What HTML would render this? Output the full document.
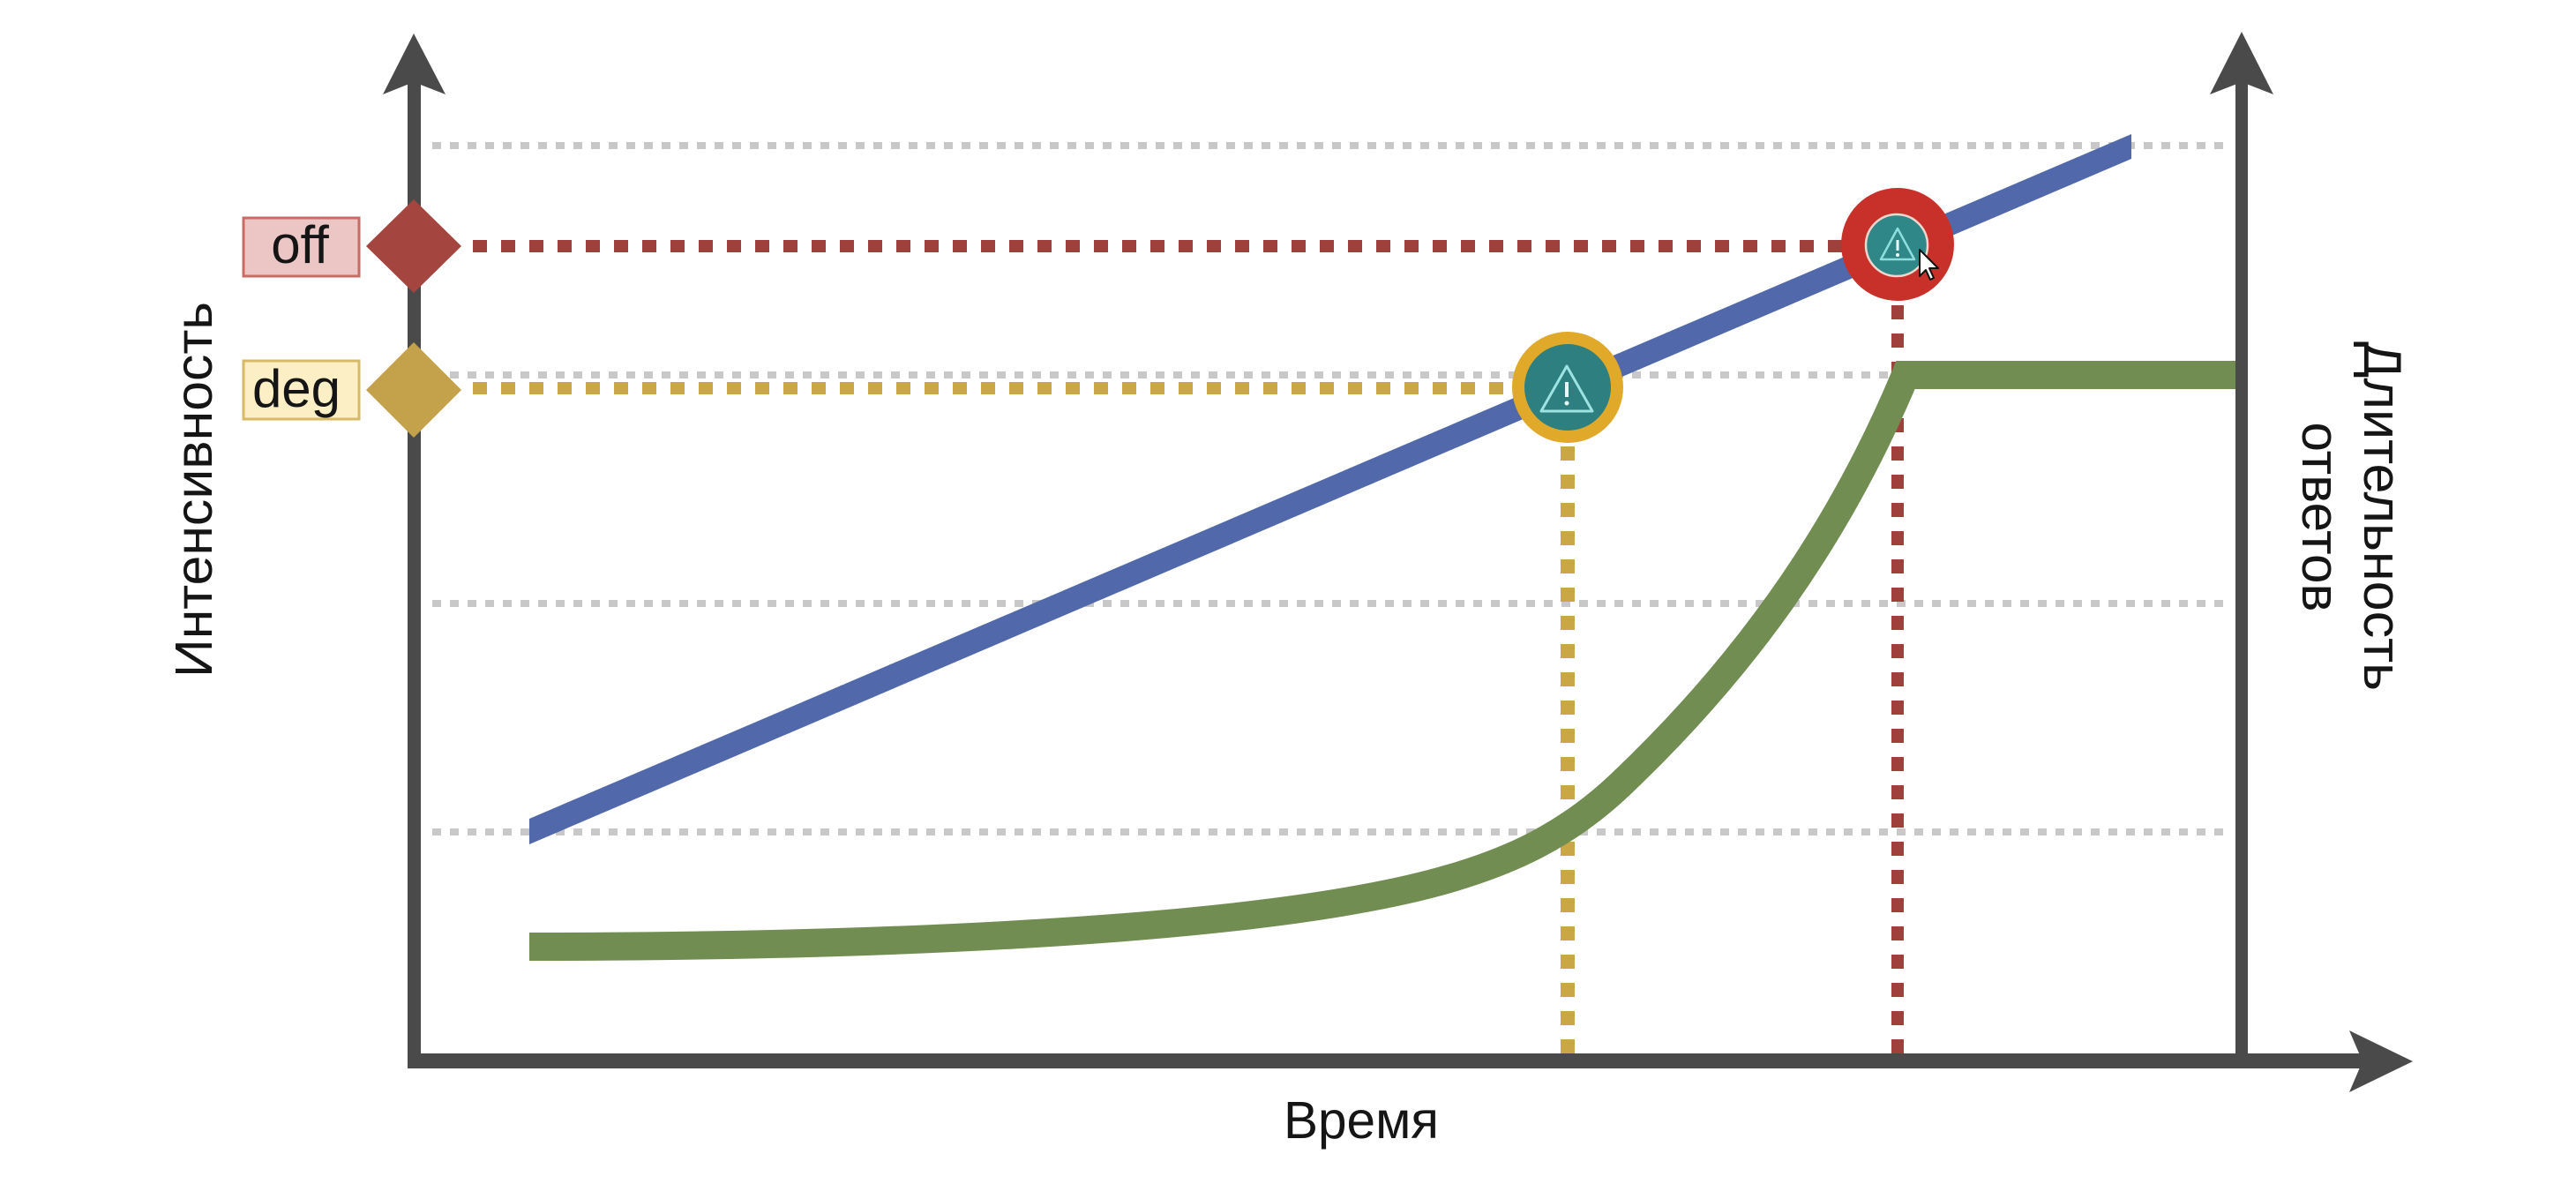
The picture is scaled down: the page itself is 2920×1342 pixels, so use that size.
<!DOCTYPE html>
<html>
<head>
<meta charset="utf-8">
<style>
  html, body { margin:0; padding:0; background:#ffffff; }
  svg { display:block; }
  text { font-family: "Liberation Sans", "DejaVu Sans", sans-serif; fill:#151515; }
</style>
</head>
<body>
<svg width="2920" height="1342" viewBox="0 0 2920 1342" xmlns="http://www.w3.org/2000/svg">
  <rect x="0" y="0" width="2920" height="1342" fill="#ffffff"/>

  <!-- grey dotted gridlines -->
  <g stroke="#c8c8c8" stroke-width="8" stroke-dasharray="10 10" fill="none">
    <line x1="490" y1="165" x2="2530" y2="165"/>
    <line x1="490" y1="425" x2="2530" y2="425"/>
    <line x1="490" y1="684" x2="2530" y2="684"/>
    <line x1="490" y1="943" x2="2530" y2="943"/>
  </g>

  <!-- threshold dashed lines -->
  <g fill="none" stroke-width="14" stroke-dasharray="16 16">
    <line x1="536" y1="279" x2="2090" y2="279" stroke="#9f403c"/>
    <line x1="536" y1="440" x2="1716" y2="440" stroke="#c9a646"/>
    <line x1="1777" y1="506" x2="1777" y2="1194" stroke="#c9a646" stroke-width="16"/>
    <line x1="2151" y1="346" x2="2151" y2="1194" stroke="#9f403c"/>
  </g>

  <!-- blue line -->
  <polygon points="600,928 600,957 2416,180 2416,152" fill="#5169ab"/>

  <!-- green curve -->
  <path fill="none" stroke="#718d52" stroke-width="32" stroke-linejoin="miter" stroke-miterlimit="10"
    d="M600,1073 C1000,1073 1446,1055 1646,995 C1710,976 1774,949 1838,888 C1968,764.5 2080,617 2160,425 L2541,425"/>

  <!-- axes -->
  <g fill="#4a4a4a">
    <rect x="462" y="92" width="15" height="1119"/>
    <polygon points="469,38 505,107 469,93 434,107"/>
    <rect x="2534" y="92" width="14" height="1110"/>
    <polygon points="2541,36 2577,107 2541,93 2505,107"/>
    <rect x="462" y="1194" width="2220" height="17"/>
    <polygon points="2735,1203 2663,1168 2678,1203 2663,1238"/>
  </g>

  <!-- diamonds -->
  <polygon points="469,226 523,279 469,332 415,279" fill="#a5453f"/>
  <polygon points="469,388 523,442 469,496 415,442" fill="#c4a24c"/>

  <!-- label boxes -->
  <rect x="276" y="247" width="131" height="66" fill="#ecc6c4" stroke="#c96b63" stroke-width="3"/>
  <text x="340" y="298" font-size="60" text-anchor="middle">off</text>
  <rect x="276" y="409" width="131" height="66" fill="#fcefc6" stroke="#d8b966" stroke-width="3"/>
  <text x="336" y="461" font-size="60" text-anchor="middle">deg</text>

  <!-- yellow alert circle -->
  <circle cx="1777" cy="439" r="63" fill="#e0a92a"/>
  <circle cx="1777" cy="439" r="49" fill="#2d7f80"/>
  <polygon points="1776,415 1805,466 1747,466" fill="none" stroke="#9ee3e3" stroke-width="3" stroke-linejoin="round"/>
  <line x1="1776" y1="433" x2="1776" y2="450" stroke="#e8f8f8" stroke-width="4"/>
  <circle cx="1776" cy="457" r="2.5" fill="#e8f8f8"/>

  <!-- red alert circle -->
  <circle cx="2151" cy="277" r="64" fill="#c8312a"/>
  <circle cx="2150" cy="278" r="35" fill="#2f8787" stroke="#f0d6cc" stroke-width="2.5"/>
  <polygon points="2151,259 2170,294 2132,294" fill="none" stroke="#8fdede" stroke-width="2.5" stroke-linejoin="round"/>
  <line x1="2151" y1="272" x2="2151" y2="284" stroke="#f0fafa" stroke-width="3"/>
  <circle cx="2151" cy="289" r="2" fill="#f0fafa"/>

  <!-- mouse cursor -->
  <polygon points="2176,283 2176,313 2183,306 2188,317 2192,315 2187,304 2197,304" fill="#ffffff" stroke="#111111" stroke-width="2" stroke-linejoin="round"/>

  <!-- axis titles -->
  <text x="1543" y="1290" font-size="59" text-anchor="middle" textLength="176" lengthAdjust="spacingAndGlyphs">Время</text>
  <text transform="translate(240,555) rotate(-90)" font-size="59" text-anchor="middle" textLength="426" lengthAdjust="spacingAndGlyphs">Интенсивность</text>
  <text transform="translate(2680,585) rotate(90)" font-size="60" text-anchor="middle" textLength="396" lengthAdjust="spacingAndGlyphs">Длительность</text>
  <text transform="translate(2610,586) rotate(90)" font-size="60" text-anchor="middle" textLength="215" lengthAdjust="spacingAndGlyphs">ответов</text>
</svg>
</body>
</html>
